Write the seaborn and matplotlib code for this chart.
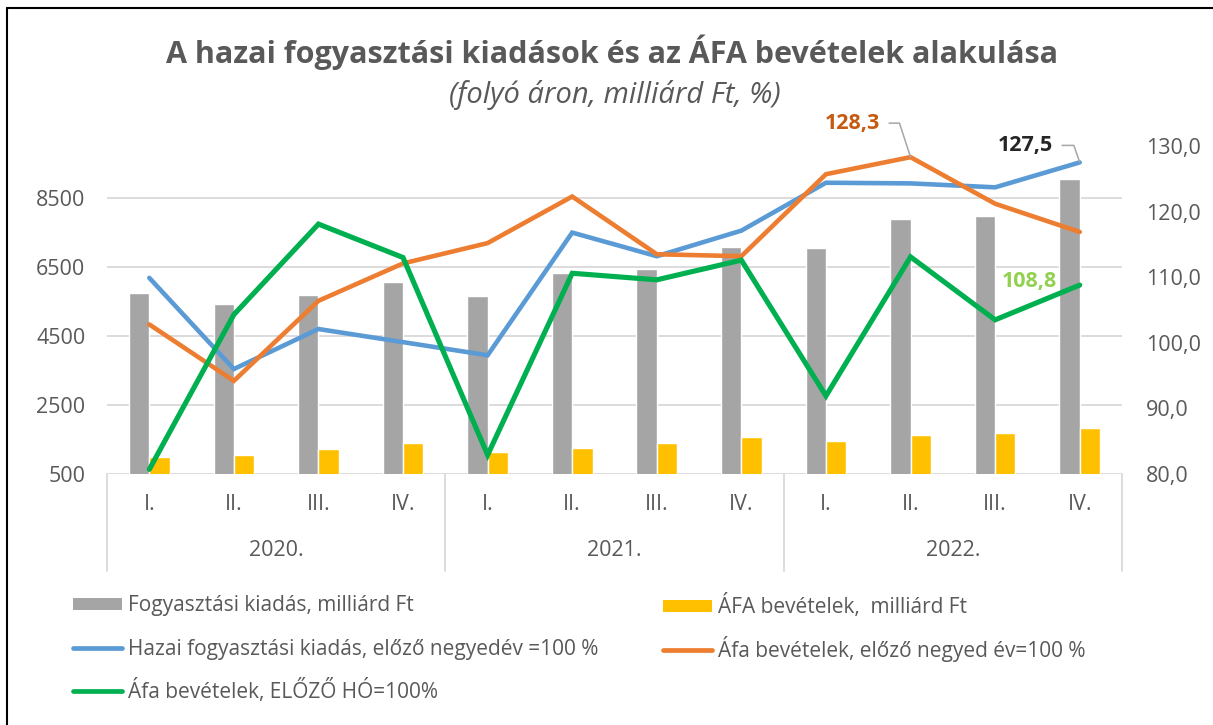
import numpy as np
import pandas as pd
import matplotlib
matplotlib.use("Agg")
import matplotlib.pyplot as plt
import seaborn as sns
from matplotlib.lines import Line2D
from matplotlib.patches import Patch
import matplotlib.transforms as mtrans

# ---------------- data ----------------
years = ["2020.", "2021.", "2022."]
quarters = ["I.", "II.", "III.", "IV."]
periods = [f"{y} {q}" for y in years for q in quarters]

fogyasztas = [5750, 5410, 5680, 6060, 5650, 6330, 6425, 7080, 7035, 7875, 7960, 9030]
afa = [985, 1040, 1225, 1395, 1145, 1260, 1390, 1570, 1445, 1640, 1695, 1840]
hazai_index = [109.9, 96.0, 102.1, 100.1, 98.1, 116.8, 113.2, 117.1, 124.4, 124.3, 123.7, 127.5]
afa_negyed_index = [102.8, 94.2, 106.4, 112.1, 115.2, 122.3, 113.5, 113.2, 125.7, 128.3, 121.2, 116.9]
afa_ho_index = [80.7, 104.3, 118.1, 113.0, 82.9, 110.6, 109.6, 112.6, 91.9, 113.1, 103.5, 108.8]

bar_names = ["Fogyasztási kiadás, milliárd Ft", "ÁFA bevételek,  milliárd Ft"]
line_names = ["Hazai fogyasztási kiadás, előző negyedév =100 %",
              "Áfa bevételek, előző negyed év=100 %",
              "Áfa bevételek, ELŐZŐ HÓ=100%"]
title = "A hazai fogyasztási kiadások és az ÁFA bevételek alakulása"
subtitle = "(folyó áron, milliárd Ft, %)"
left_ticks = [500, 2500, 4500, 6500, 8500]
right_ticks = [80, 90, 100, 110, 120, 130]

# ---------------- style ----------------
sns.set_theme(style="white")
plt.rcParams['font.family'] = ['Open Sans', 'DejaVu Sans']
TXT = "#595959"
GRID = "#D9D9D9"
C_GRAY = "#A5A5A5"
C_YEL = "#FFC000"
C_BLUE = "#5B9BD5"
C_ORA = "#ED7D31"
C_GRN = "#00B050"
FS = 15.5

W, H = 1213, 725
fig = plt.figure(figsize=(W / 100, H / 100), dpi=100)
L, R, T, B = 107, 1122, 146, 474
ax = fig.add_axes([L / W, 1 - B / H, (R - L) / W, (B - T) / H])

bars_df = pd.DataFrame({
    "period": periods * 2,
    "value": fogyasztas + afa,
    "series": [bar_names[0]] * 12 + [bar_names[1]] * 12,
})
sns.barplot(data=bars_df, x="period", y="value", hue="series", order=periods,
            hue_order=bar_names, palette=[C_GRAY, C_YEL], width=0.48,
            saturation=1, ax=ax, legend=False, zorder=2)

ax.set_ylim(500, 10000)
ax.set_xlim(-0.5, 11.5)
ax.set_yticks(left_ticks)
ax.set_yticklabels([str(v) for v in left_ticks])
ax.tick_params(axis="y", length=0, pad=15.5, labelsize=FS, labelcolor=TXT)
ax.set_xticks([])
ax.set_xlabel("")
ax.set_ylabel("")
for v in left_ticks:
    ax.axhline(v, color=GRID, lw=1.3, zorder=0)
for s in ax.spines.values():
    s.set_visible(False)

# secondary axis with the index lines
ax2 = ax.twinx()
lines_df = pd.DataFrame({
    "x": list(range(12)) * 3,
    "value": hazai_index + afa_negyed_index + afa_ho_index,
    "series": [line_names[0]] * 12 + [line_names[1]] * 12 + [line_names[2]] * 12,
})
sns.lineplot(data=lines_df, x="x", y="value", hue="series", hue_order=line_names,
             palette=[C_BLUE, C_ORA, C_GRN], linewidth=3.4, ax=ax2, legend=False,
             solid_capstyle="round", solid_joinstyle="miter")
for ln, lw in zip(ax2.get_lines(), [3.3, 3.3, 3.7]):
    ln.set_linewidth(lw)
ax2.set_ylim(80, 130)
ax2.set_xlim(-0.5, 11.5)
ax2.set_yticks(right_ticks)
ax2.set_yticklabels([f"{v:.1f}".replace(".", ",") for v in right_ticks])
ax2.tick_params(axis="y", length=0, pad=17, labelsize=FS, labelcolor=TXT)
ax2.set_xlabel("")
ax2.set_ylabel("")
ax2.grid(False)
for s in ax2.spines.values():
    s.set_visible(False)

# category axis (two levels)
tr = mtrans.blended_transform_factory(ax.transData, ax.transAxes)
h_ax = B - T
for i, p in enumerate(periods):
    q = p.split(" ")[1]
    ax.text(i, -(505 - B) / h_ax, q, transform=tr, ha="center", va="center",
            fontsize=FS, color=TXT)
for k, y in enumerate(years):
    ax.text(4 * k + 1.5, -(550 - B) / h_ax, y, transform=tr, ha="center",
            va="center", fontsize=FS, color=TXT)
for xb in [-0.5, 3.5, 7.5, 11.5]:
    ax.plot([xb, xb], [0, -(571 - B) / h_ax], transform=tr, color=GRID, lw=1.3,
            clip_on=False, zorder=1)

# data labels
def px(v):
    return v * 0.72

ax2.annotate("128,3", xy=(9, afa_negyed_index[9]), xytext=(px(-58), px(34)),
             textcoords="offset points", ha="center", va="center",
             fontsize=FS, fontweight="bold", color="#C55A11",
             arrowprops=dict(arrowstyle="-", color="#A6A6A6", lw=1.1,
                             connectionstyle="angle,angleA=0,angleB=108,rad=0",
                             relpos=(1, 0.5), shrinkA=4, shrinkB=0))
ax2.annotate("127,5", xy=(11, hazai_index[11]), xytext=(px(-54), px(17)),
             textcoords="offset points", ha="center", va="center",
             fontsize=FS, fontweight="bold", color="#262626",
             arrowprops=dict(arrowstyle="-", color="#A6A6A6", lw=1.1,
                             connectionstyle="angle,angleA=0,angleB=109,rad=0",
                             relpos=(1, 0.5), shrinkA=4, shrinkB=0))
ax2.annotate("108,8", xy=(11, afa_ho_index[11]), xytext=(px(-50), px(4)),
             textcoords="offset points", ha="center", va="center",
             fontsize=FS, fontweight="bold", color="#92D050")

# titles
fig.text(612 / W, 1 - 52 / H, title, ha="center", va="center", fontsize=22,
         fontweight="bold", color=TXT)
fig.text(615 / W, 1 - 95 / H, subtitle, ha="center", va="center", fontsize=21,
         style="italic", color=TXT)

# legend: one entry per legend so every row sits at its exact place
h_gray = Patch(facecolor=C_GRAY, edgecolor="none")
h_yel = Patch(facecolor=C_YEL, edgecolor="none")
h_blue = Line2D([], [], color=C_BLUE, lw=3.4, solid_capstyle="round")
h_ora = Line2D([], [], color=C_ORA, lw=3.4, solid_capstyle="round")
h_grn = Line2D([], [], color=C_GRN, lw=3.4, solid_capstyle="round")
common = dict(frameon=False, fontsize=15, labelcolor=TXT, handlelength=2.35,
              handleheight=0.5, handletextpad=0.3, borderaxespad=0, borderpad=0,
              loc="center left")
entries = [
    (h_gray, bar_names[0], 73, 606),
    (h_yel, bar_names[1], 663, 606),
    (h_blue, line_names[0], 73, 649),
    (h_ora, line_names[1], 663, 649),
    (h_grn, line_names[2], 73, 691),
]
for hnd, lab, x0, y0 in entries:
    lg = fig.legend([hnd], [lab], bbox_to_anchor=(x0 / W, 1 - y0 / H), **common)

# outer frame (left and top edges visible)
fig.add_artist(Line2D([7 / W, 7 / W], [0, 1 - 8 / H], transform=fig.transFigure,
                      color="black", lw=1.5))
fig.add_artist(Line2D([7 / W, 1], [1 - 8 / H, 1 - 8 / H], transform=fig.transFigure,
                      color="black", lw=1.5))

fig.savefig("out.png", dpi=100, facecolor="white")
